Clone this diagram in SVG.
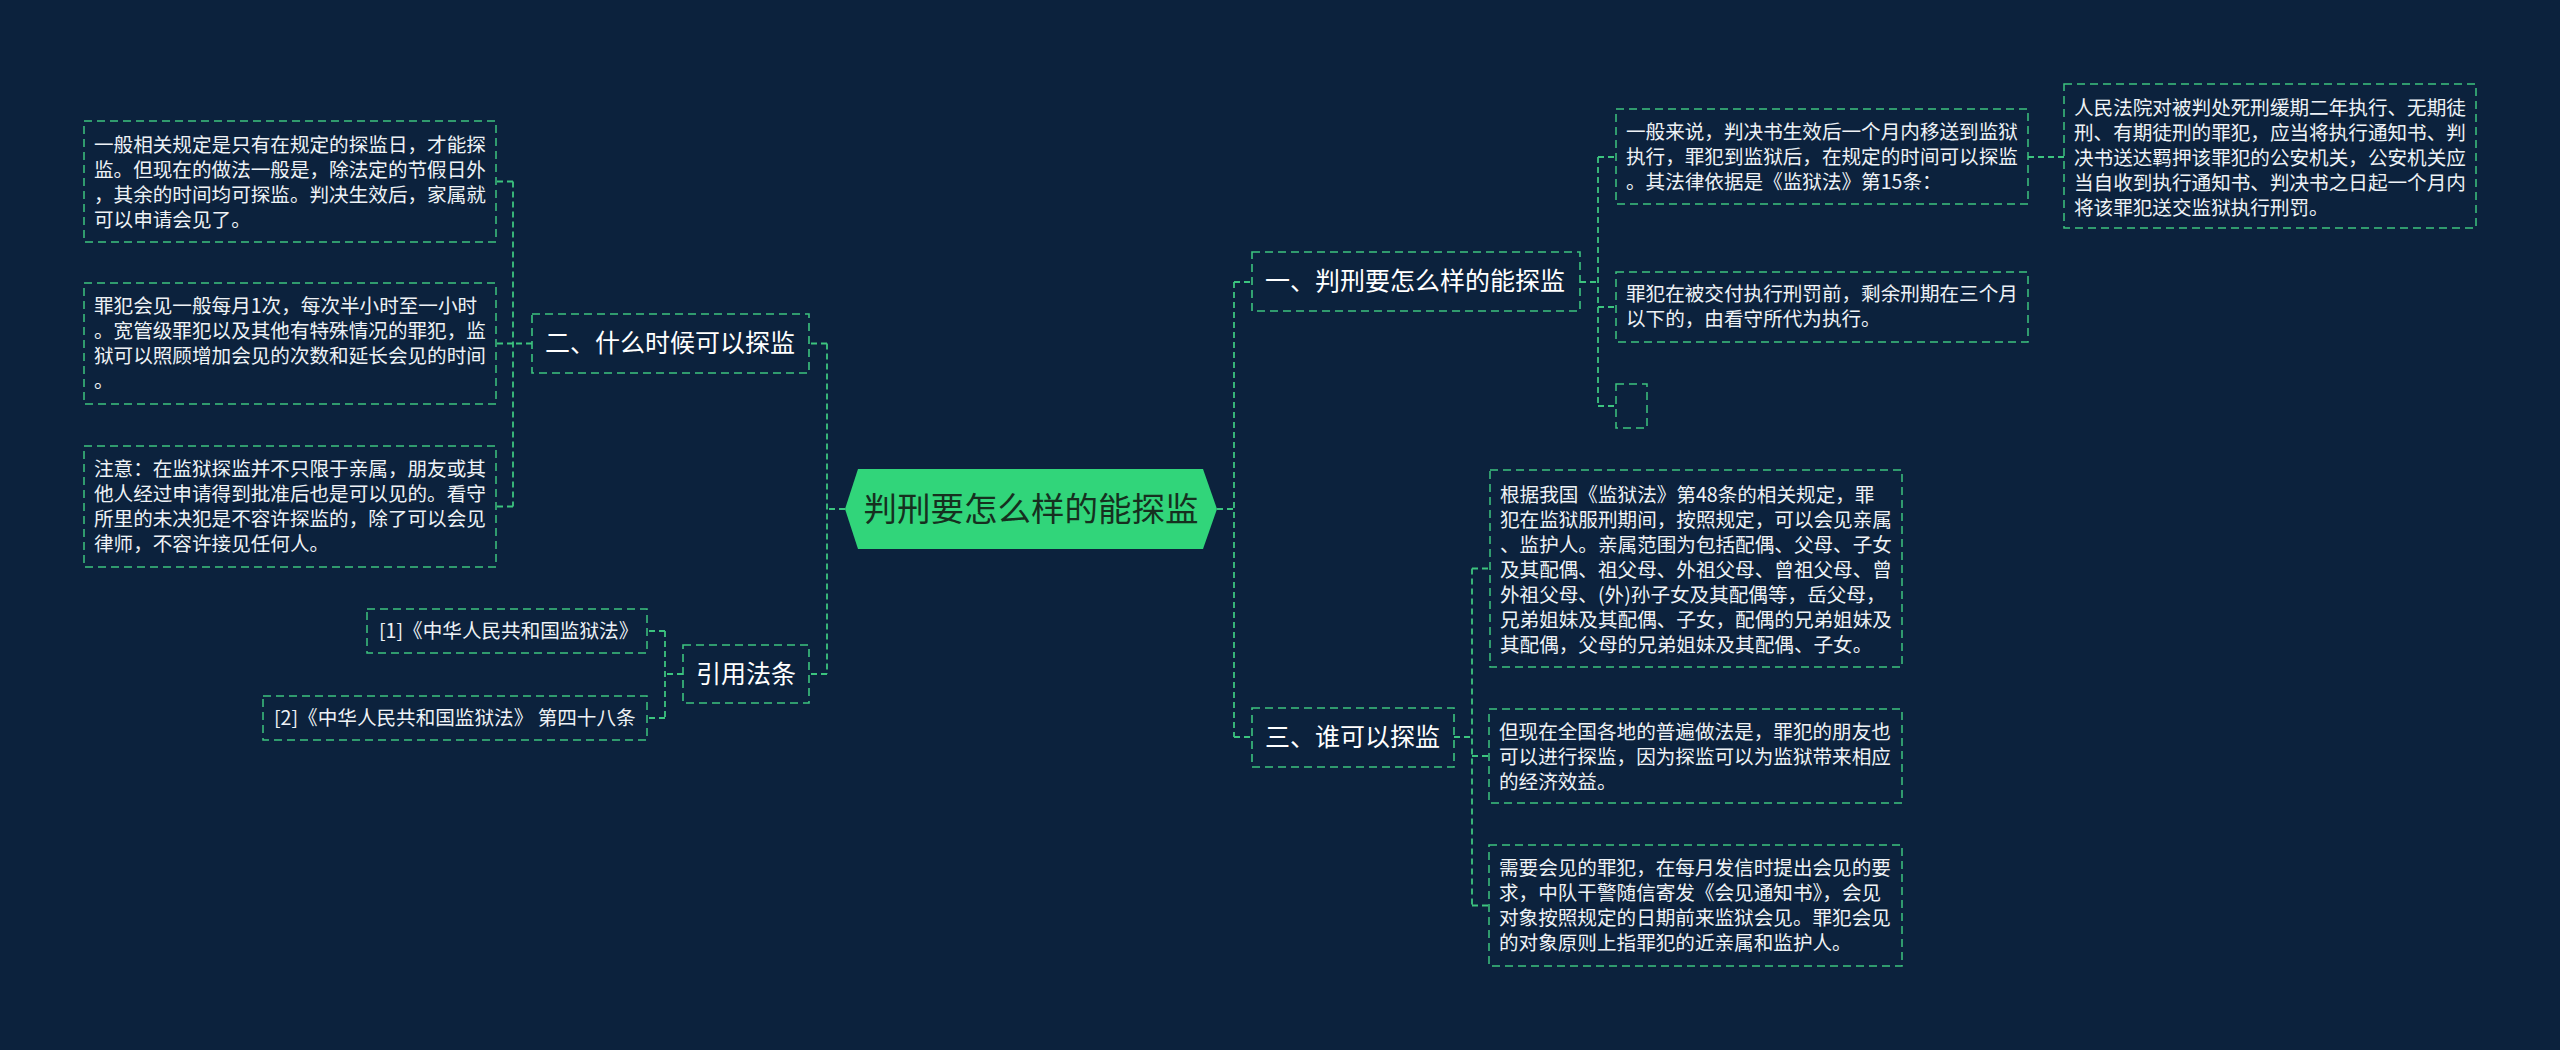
<svg xmlns="http://www.w3.org/2000/svg" width="2560" height="1050" viewBox="0 0 2560 1050">
<style>
.bg{fill:#0c223d}
.box{fill:none;stroke:#3cc47f;stroke-width:1.5;stroke-dasharray:8 5}
.node{fill:none;stroke:#3cc47f;stroke-width:1.6;stroke-dasharray:8 5}
.conn path{fill:none;stroke:#3cc47f;stroke-width:1.8;stroke-dasharray:6 4}
.t{font-family:"Noto Sans CJK SC","Noto Sans",sans-serif;font-size:19.6px;fill:#eef2f6}
.n{font-family:"Noto Sans CJK SC","Noto Sans",sans-serif;font-size:25px;fill:#ffffff}
.c{font-family:"Noto Sans CJK SC","Noto Sans",sans-serif;font-size:33.5px;fill:#16301f;text-anchor:middle}
</style>
<rect class="bg" x="0" y="0" width="2560" height="1050"/>

<g id="connectors" class="conn">
  <!-- center to left branches -->
  <path d="M845 509 H827 M827 343.5 V674 M827 343.5 H809 M827 674 H809"/>
  <!-- node 二 to its boxes -->
  <path d="M532 343.5 H513 M513 181.5 V506.5 M513 181.5 H496 M513 343.5 H496 M513 506.5 H496"/>
  <!-- 引用法条 to refs -->
  <path d="M683 674 H665 M665 631 V718 M665 631 H647 M665 718 H647"/>
  <!-- center to right branches -->
  <path d="M1217 509 H1234 M1234 282 V737 M1234 282 H1252 M1234 737 H1252"/>
  <!-- node 一 to boxes -->
  <path d="M1580 282 H1598 M1598 157 V406 M1598 157 H1616 M1598 307 H1616 M1598 406 H1616"/>
  <path d="M2028 157 H2064"/>
  <!-- node 三 to boxes -->
  <path d="M1454 737 H1472 M1472 568.5 V905.5 M1472 568.5 H1490 M1472 756 H1489 M1472 905.5 H1489"/>
</g>

<g id="center">
  <polygon points="845,509 858,469 1203,469 1217,509 1203,549 858,549" fill="#31d57a"/>
  <text class="c" x="1031" y="521">判刑要怎么样的能探监</text>
</g>

<g id="node-when">
  <rect class="node" x="532" y="314" width="277" height="59"/>
  <text class="n" x="545" y="352">二、什么时候可以探监</text>
</g>
<g id="box-when-1">
  <rect class="box" x="84" y="121" width="412" height="121"/>
  <text class="t" x="94" y="152">一般相关规定是只有在规定的探监日，才能探</text>
  <text class="t" x="94" y="177">监。但现在的做法一般是，除法定的节假日外</text>
  <text class="t" x="94" y="202">，其余的时间均可探监。判决生效后，家属就</text>
  <text class="t" x="94" y="227">可以申请会见了。</text>
</g>
<g id="box-when-2">
  <rect class="box" x="84" y="283" width="412" height="121"/>
  <text class="t" x="94" y="313">罪犯会见一般每月1次，每次半小时至一小时</text>
  <text class="t" x="94" y="338">。宽管级罪犯以及其他有特殊情况的罪犯，监</text>
  <text class="t" x="94" y="363">狱可以照顾增加会见的次数和延长会见的时间</text>
  <text class="t" x="94" y="388">。</text>
</g>
<g id="box-when-3">
  <rect class="box" x="84" y="446" width="412" height="121"/>
  <text class="t" x="94" y="476">注意：在监狱探监并不只限于亲属，朋友或其</text>
  <text class="t" x="94" y="501">他人经过申请得到批准后也是可以见的。看守</text>
  <text class="t" x="94" y="526">所里的未决犯是不容许探监的，除了可以会见</text>
  <text class="t" x="94" y="551">律师，不容许接见任何人。</text>
</g>

<g id="node-refs">
  <rect class="node" x="683" y="645" width="126" height="58"/>
  <text class="n" x="696" y="683">引用法条</text>
</g>
<g id="ref-1">
  <rect class="box" x="367" y="609" width="280" height="44"/>
  <text class="t" x="379" y="638">[1]《中华人民共和国监狱法》</text>
</g>
<g id="ref-2">
  <rect class="box" x="263" y="696" width="384" height="44"/>
  <text class="t" x="274" y="725">[2]《中华人民共和国监狱法》 第四十八条</text>
</g>

<g id="node-how">
  <rect class="node" x="1252" y="252" width="328" height="59"/>
  <text class="n" x="1265" y="290">一、判刑要怎么样的能探监</text>
</g>
<g id="box-how-1">
  <rect class="box" x="1616" y="109" width="412" height="95"/>
  <text class="t" x="1626" y="139">一般来说，判决书生效后一个月内移送到监狱</text>
  <text class="t" x="1626" y="164">执行，罪犯到监狱后，在规定的时间可以探监</text>
  <text class="t" x="1626" y="189">。其法律依据是《监狱法》第15条：</text>
</g>
<g id="box-how-1a">
  <rect class="box" x="2064" y="84" width="412" height="144"/>
  <text class="t" x="2074" y="115">人民法院对被判处死刑缓期二年执行、无期徒</text>
  <text class="t" x="2074" y="140">刑、有期徒刑的罪犯，应当将执行通知书、判</text>
  <text class="t" x="2074" y="165">决书送达羁押该罪犯的公安机关，公安机关应</text>
  <text class="t" x="2074" y="190">当自收到执行通知书、判决书之日起一个月内</text>
  <text class="t" x="2074" y="215">将该罪犯送交监狱执行刑罚。</text>
</g>
<g id="box-how-2">
  <rect class="box" x="1616" y="272" width="412" height="70"/>
  <text class="t" x="1626" y="301">罪犯在被交付执行刑罚前，剩余刑期在三个月</text>
  <text class="t" x="1626" y="326">以下的，由看守所代为执行。</text>
</g>
<g id="box-how-3">
  <rect class="box" x="1616" y="384" width="31" height="44"/>
</g>

<g id="node-who">
  <rect class="node" x="1252" y="708" width="202" height="59"/>
  <text class="n" x="1265" y="746">三、谁可以探监</text>
</g>
<g id="box-who-1">
  <rect class="box" x="1490" y="470" width="412" height="197"/>
  <text class="t" x="1500" y="502">根据我国《监狱法》第48条的相关规定，罪</text>
  <text class="t" x="1500" y="527">犯在监狱服刑期间，按照规定，可以会见亲属</text>
  <text class="t" x="1500" y="552">、监护人。亲属范围为包括配偶、父母、子女</text>
  <text class="t" x="1500" y="577">及其配偶、祖父母、外祖父母、曾祖父母、曾</text>
  <text class="t" x="1500" y="602">外祖父母、(外)孙子女及其配偶等，岳父母，</text>
  <text class="t" x="1500" y="627">兄弟姐妹及其配偶、子女，配偶的兄弟姐妹及</text>
  <text class="t" x="1500" y="652">其配偶，父母的兄弟姐妹及其配偶、子女。</text>
</g>
<g id="box-who-2">
  <rect class="box" x="1489" y="709" width="413" height="94"/>
  <text class="t" x="1499" y="739">但现在全国各地的普遍做法是，罪犯的朋友也</text>
  <text class="t" x="1499" y="764">可以进行探监，因为探监可以为监狱带来相应</text>
  <text class="t" x="1499" y="789">的经济效益。</text>
</g>
<g id="box-who-3">
  <rect class="box" x="1489" y="845" width="413" height="121"/>
  <text class="t" x="1499" y="875">需要会见的罪犯，在每月发信时提出会见的要</text>
  <text class="t" x="1499" y="900">求，中队干警随信寄发《会见通知书》，会见</text>
  <text class="t" x="1499" y="925">对象按照规定的日期前来监狱会见。罪犯会见</text>
  <text class="t" x="1499" y="950">的对象原则上指罪犯的近亲属和监护人。</text>
</g>
</svg>
